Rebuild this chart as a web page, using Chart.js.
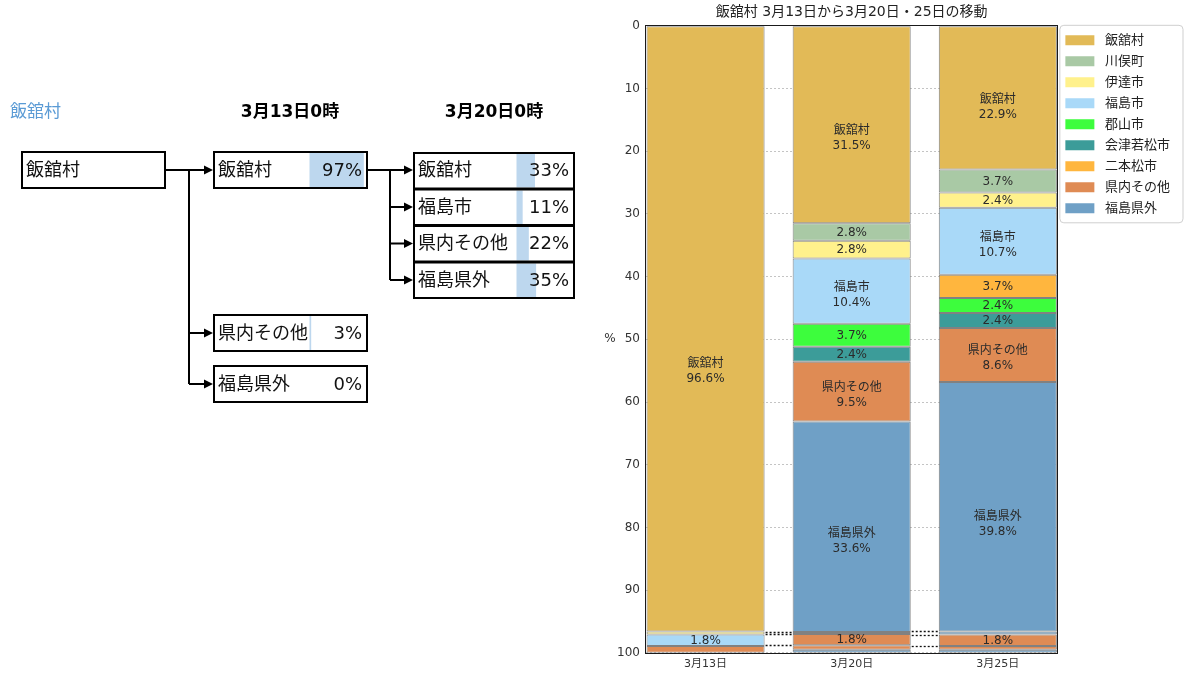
<!DOCTYPE html>
<html>
<head>
<meta charset="utf-8">
<script src="https://cdn.jsdelivr.net/npm/chart.js@4/dist/chart.umd.min.js"></script>
<style>
  html, body { margin: 0; padding: 0; background: #fff; }
  body { width: 1186px; height: 676px; position: relative; overflow: hidden; }
  #flow { position: absolute; left: 0; top: 0; }
  #move { position: absolute; left: 590px; top: 0; }
</style>
</head>
<body>
<canvas id="flow" width="590" height="676"></canvas>
<canvas id="move" width="596" height="676"></canvas>
<script>
// 左の図：3月13日0時・3月20日0時にどこにいたか
const origin = '飯舘村';
const heads = ['3月13日0時', '3月20日0時'];
const at13Places = ['飯舘村', '県内その他', '福島県外'];
const at13Pct = [97, 3, 0];
const at20Places = ['飯舘村', '福島市', '県内その他', '福島県外'];
const at20Pct = [33, 11, 22, 35];

// 右のグラフ（%）
const days = ['3月13日', '3月20日', '3月25日'];
const iitate = [96.6, 31.5, 22.9];
const kawamata = [null, 2.8, 3.7];
const dateCity = [null, 2.8, 2.4];
const fukushima = [null, 10.4, 10.7];
const nihonmatsu = [null, null, 3.7];
const koriyama = [null, 3.7, 2.4];
const aizu = [null, 2.4, 2.4];
const otherPref = [null, 9.5, 8.6];
const outside = [null, 33.6, 39.8];
// 13日の時点で村の外にいた人の内訳（下の段）
const dateLow = [0.5, null, null];
const fukushimaLow = [1.8, null, null];
const outsideLow = [null, 0.3, 0.5];
const otherLow = [1.1, 1.8, 1.8];
const otherLow2 = [null, 0.7, 0.6];
const outsideLow2 = [null, 0.5, 0.5];

const colors = {
  '飯舘村': '#e2ba57', '川俣町': '#a9c9a5', '伊達市': '#fff18c', '福島市': '#a9d9f8',
  '郡山市': '#3dfd3d', '会津若松市': '#3c9c99', '二本松市': '#ffb63e',
  '県内その他': '#df8b54', '福島県外': '#6fa0c6'
};
const legendOrder = ['飯舘村', '川俣町', '伊達市', '福島市', '郡山市', '会津若松市', '二本松市', '県内その他', '福島県外'];

const FONT = "'DejaVu Sans', 'Noto Sans CJK JP', sans-serif";

// ---------- 左の流れ図 ----------
const fc = document.getElementById('flow').getContext('2d');

function arrow(x0, x1, y) {
  fc.beginPath();
  fc.moveTo(x0, y); fc.lineTo(x1 - 7, y);
  fc.stroke();
  fc.beginPath();
  fc.moveTo(x1, y); fc.lineTo(x1 - 9, y - 4.5); fc.lineTo(x1 - 9, y + 4.5);
  fc.closePath(); fc.fill();
}

function box(x, y, w, h, name, pct) {
  if (pct != null) {
    const track = 56, start = x + w - 58.5;
    fc.fillStyle = '#bdd7ee';
    fc.fillRect(start, y + 2, track * pct / 100, h - 4);
  }
  fc.fillStyle = '#111';
  fc.font = '18px ' + FONT;
  fc.textBaseline = 'middle';
  fc.textAlign = 'left';
  fc.fillText(name, x + 5, y + h / 2 + 1);
  if (pct != null) {
    fc.textAlign = 'right';
    fc.fillText(pct + '%', x + w - 6, y + h / 2 + 1);
  }
  fc.lineWidth = 2;
  fc.strokeStyle = '#000';
  fc.strokeRect(x + 1, y + 1, w - 2, h - 2);
}

fc.fillStyle = '#5b9bd5';
fc.font = '17px ' + FONT;
fc.textBaseline = 'middle';
fc.fillText(origin, 10, 113);
fc.fillStyle = '#000';
fc.font = 'bold 17px ' + FONT;
fc.textAlign = 'center';
fc.fillText(heads[0], 290, 113);
fc.fillText(heads[1], 494, 113);

box(21, 151, 145, 38, origin, null);

const col2Tops = [151, 314, 365];
at13Places.forEach((p, i) => box(213, col2Tops[i], 155, 38, p, at13Pct[i]));
const col3Tops = at20Places.map((p, i) => 152 + i * 36.5);
at20Places.forEach((p, i) => box(413, col3Tops[i], 162, 37.5, p, at20Pct[i]));

fc.strokeStyle = '#000';
fc.fillStyle = '#000';
fc.lineWidth = 2;
fc.beginPath(); fc.moveTo(189, 170); fc.lineTo(189, col2Tops[2] + 19); fc.stroke();
arrow(166, 213, 170);
col2Tops.slice(1).forEach(t => arrow(189, 213, t + 19));
fc.beginPath(); fc.moveTo(390, 170); fc.lineTo(390, col3Tops[3] + 18.5); fc.stroke();
arrow(368, 413, 170);
col3Tops.slice(1).forEach(t => arrow(390, 413, t + 18.5));

// ---------- 右の積み上げ棒グラフ ----------
const series = [
  ['飯舘村', iitate], ['川俣町', kawamata], ['伊達市', dateCity], ['福島市', fukushima],
  ['二本松市', nihonmatsu], ['郡山市', koriyama], ['会津若松市', aizu],
  ['県内その他', otherPref], ['福島県外', outside],
  ['伊達市', dateLow, true], ['福島市', fukushimaLow, true], ['福島県外', outsideLow, true],
  ['県内その他', otherLow, true], ['県内その他', otherLow2, true], ['福島県外', outsideLow2, true]
];
// 棒の間の点線をどの段の下端に引くか
const linkAfter = [8, 11, 12];

const datasets = series.map(([name, vals, lower]) => ({
  label: name,
  lower: !!lower,
  data: vals.map((v, i) => ({ x: i, y: v })),
  backgroundColor: colors[name],
  borderColor: 'rgba(115,115,115,0.9)',
  borderWidth: 1,
  borderSkipped: false,
  barPercentage: 0.808,
  categoryPercentage: 1
}));

const segLabels = {
  id: 'segLabels',
  afterDatasetsDraw(chart) {
    const ctx = chart.ctx;
    ctx.save();
    ctx.fillStyle = '#2b2b2b';
    ctx.textAlign = 'center';
    ctx.textBaseline = 'middle';
    ctx.font = '12px ' + FONT;
    chart.data.datasets.forEach((ds, di) => {
      chart.getDatasetMeta(di).data.forEach((bar, i) => {
        const v = ds.data[i].y;
        if (v == null || v < 1.5) return;
        const top = Math.min(bar.y, bar.base), h = Math.abs(bar.base - bar.y);
        const txt = v.toFixed(1) + '%';
        if (v >= 8) {
          const cy = top + h * 0.57;
          ctx.fillText(ds.label, bar.x, cy - 7.5);
          ctx.fillText(txt, bar.x, cy + 7.5);
        } else {
          ctx.fillText(txt, bar.x, top + h / 2 + 0.5);
        }
      });
    });
    ctx.restore();
  }
};

const links = {
  id: 'links',
  afterDatasetsDraw(chart) {
    const ctx = chart.ctx, ys = chart.scales.y;
    const first = chart.getDatasetMeta(0).data;
    ctx.save();
    ctx.strokeStyle = '#111';
    ctx.lineWidth = 1.3;
    ctx.setLineDash([2, 2]);
    for (let i = 1; i < days.length; i++) {
      const x0 = first[i - 1].x + first[i - 1].width / 2 + 1;
      const x1 = first[i].x - first[i].width / 2 - 1;
      linkAfter.forEach(k => {
        let sum = 0;
        for (let d = 0; d <= k; d++) sum += chart.data.datasets[d].data[i].y || 0;
        const y = Math.round(ys.getPixelForValue(sum)) + 0.5;
        ctx.beginPath(); ctx.moveTo(x0, y); ctx.lineTo(x1, y); ctx.stroke();
      });
    }
    ctx.restore();
  }
};

const frame = {
  id: 'frame',
  afterDraw(chart) {
    const ctx = chart.ctx, a = chart.chartArea;
    ctx.save();
    ctx.strokeStyle = '#1a1a1a';
    ctx.lineWidth = 1;
    ctx.strokeRect(Math.round(a.left) - 0.5, Math.round(a.top) - 0.5, Math.round(a.right - a.left) + 1, Math.round(a.bottom - a.top) + 1);
    // y軸の単位
    ctx.fillStyle = '#333';
    ctx.font = '12px ' + FONT;
    ctx.textAlign = 'center';
    ctx.textBaseline = 'middle';
    ctx.fillText('%', 20, (a.top + a.bottom) / 2);
    // 凡例の枠
    const lg = chart.legend, hb = lg.legendHitBoxes;
    const last = hb[hb.length - 1];
    const lx = hb[0].left - 5.5, ly = hb[0].top - 8.5;
    const w = chart.width - 3 - lx, h = last.top + last.height + 8 - ly;
    ctx.strokeStyle = '#cfcfcf';
    ctx.beginPath();
    ctx.roundRect(lx, ly, w, h, 4);
    ctx.stroke();
    ctx.restore();
  }
};

new Chart(document.getElementById('move'), {
  type: 'bar',
  data: { datasets },
  options: {
    responsive: false,
    animation: false,
    layout: { padding: { left: 0, right: 6, top: 0, bottom: 0 } },
    plugins: {
      tooltip: { enabled: false },
      title: {
        display: true,
        fullSize: false,
        text: '飯舘村 3月13日から3月20日・25日の移動',
        color: '#222',
        font: { family: FONT, size: 14, weight: 'normal' },
        padding: { top: 4, bottom: 5 }
      },
      legend: {
        position: 'right',
        align: 'start',
        fullSize: false,
        labels: {
          boxWidth: 29,
          boxHeight: 10,
          padding: 8,
          color: '#222',
          font: { family: FONT, size: 13 },
          filter: (item, data) => !data.datasets[item.datasetIndex].lower,
          sort: (a, b) => legendOrder.indexOf(a.text.trim()) - legendOrder.indexOf(b.text.trim()),
          generateLabels: chart => Chart.defaults.plugins.legend.labels.generateLabels(chart)
            .map(l => Object.assign(l, { lineWidth: 0, text: ' ' + l.text }))
        }
      }
    },
    scales: {
      x: {
        type: 'linear',
        stacked: true,
        offset: false,
        min: -0.4075,
        max: 2.4075,
        afterBuildTicks: s => { s.ticks = days.map((d, i) => ({ value: i })); },
        grid: { display: false, drawTicks: false },
        border: { display: false },
        ticks: {
          autoSkip: false,
          maxRotation: 0,
          padding: 5,
          color: '#333',
          font: { family: FONT, size: 11 },
          callback: v => days[v]
        }
      },
      y: {
        stacked: true,
        reverse: true,
        min: 0,
        max: 100,
        afterFit: s => { s.width = 56; },
        grid: { color: '#c4c4c4', drawTicks: false },
        border: { display: false, dash: [2, 2] },
        ticks: {
          stepSize: 10,
          padding: 6,
          color: '#333',
          font: { family: FONT, size: 12 }
        }
      }
    }
  },
  plugins: [links, segLabels, frame]
});
</script>
</body>
</html>
